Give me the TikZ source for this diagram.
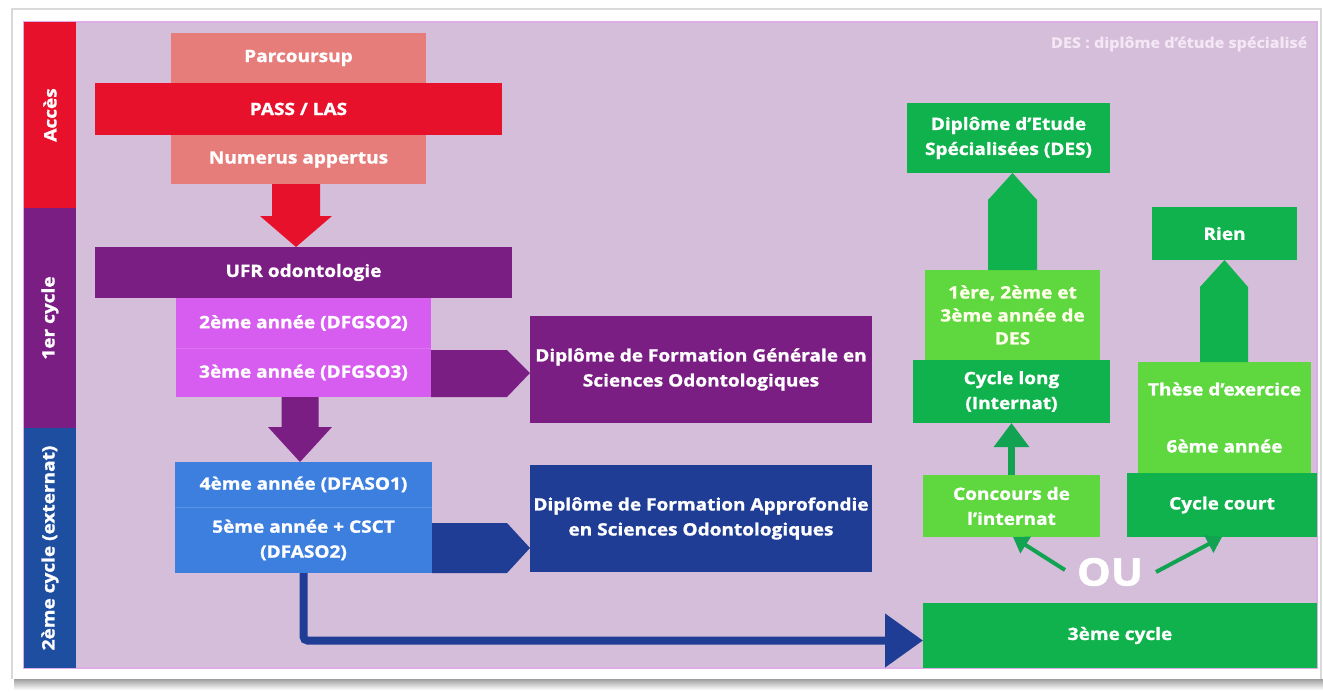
\documentclass[tikz,border=0pt]{standalone}
\usepackage{fontspec}
\setmainfont{Open Sans}[FakeStretch=1.12, BoldFeatures={FakeBold=1.3}]
\usetikzlibrary{arrows.meta,calc}
\definecolor{lav}{RGB}{213,190,218}
\definecolor{lavedge}{RGB}{222,172,230}
\definecolor{redc}{RGB}{232,17,43}
\definecolor{salmon}{RGB}{231,125,123}
\definecolor{purplec}{RGB}{123,30,132}
\definecolor{magentac}{RGB}{215,93,240}
\definecolor{lightblue}{RGB}{61,127,223}
\definecolor{darkblue}{RGB}{31,61,148}
\definecolor{sideblue}{RGB}{30,78,159}
\definecolor{darkgreen}{RGB}{15,178,76}
\definecolor{lightgreen}{RGB}{94,216,62}
\definecolor{arrowgreen}{RGB}{18,163,82}
\definecolor{notec}{RGB}{244,230,244}
\begin{document}
\begin{tikzpicture}[x=1pt,y=-1pt,
  box/.style={inner sep=0pt, outer sep=0pt, text=white, align=center,
    font=\bfseries\fontsize{17}{25}\selectfont},
  side/.style={box, rotate=90, minimum height=52pt,
    font=\bfseries\fontsize{17}{20}\selectfont},
  thinarrow/.style={draw=arrowgreen, line width=4pt,
    -{Triangle[length=15pt,width=19pt]}}
]
\useasboundingbox (0,0) rectangle (1323,691);
% card and shadow
\fill[white] (0,0) rectangle (1323,691);
\shade[top color=gray!75, bottom color=white] (14,679) rectangle (1323,690);
\draw[gray!30, line width=1.5pt] (12,679) -- (12,9) -- (1321,9) -- (1321,679);
% lavender panel
\fill[lav, draw=lavedge, line width=1.2pt] (24,22) rectangle (1317,668);

% side bands
\node[side, fill=redc, minimum width=186pt] (acces) at (50,115) {Accès};
\node[side, fill=purplec, minimum width=220pt] (cyc1) at (50,318) {1er cycle};
\node[side, fill=sideblue, minimum width=240pt] (cyc2) at (50,548) {2ème cycle (externat)};

% access
\node[box, fill=salmon, minimum width=255pt, minimum height=50pt] (parc) at (298.5,58) {Parcoursup};
\node[box, fill=salmon, minimum width=255pt, minimum height=49pt] (numerus) at (298.5,159.5) {Numerus appertus};
\node[box, fill=redc, minimum width=407pt, minimum height=52pt] (pass) at (298.5,109) {PASS / LAS};

% first cycle
\node[box, fill=purplec, minimum width=417pt, minimum height=51pt] (ufr) at (303.5,272.5) {UFR odontologie};
\node[box, fill=magentac, minimum width=255pt, minimum height=50pt] (dfgso2) at (303.5,323) {2ème année (DFGSO2)};
\node[box, fill=magentac, minimum width=255pt, minimum height=49pt] (dfgso3) at (303.5,372.5) {3ème année (DFGSO3)};
\draw[magentac!85!white, line width=0.8pt] (dfgso2.south west) -- (dfgso2.south east);
\node[box, fill=purplec, minimum width=342pt, minimum height=107pt] (dfgs) at (701,369.5)
  {Diplôme de Formation Générale en\\Sciences Odontologiques};

% second cycle
\node[box, fill=lightblue, minimum width=257pt, minimum height=45pt] (dfaso1) at (303.5,484.5) {4ème année (DFASO1)};
\node[box, fill=lightblue, minimum width=257pt, minimum height=66pt] (dfaso2) at (303.5,540) {5ème année + CSCT\\(DFASO2)};
\draw[lightblue!85!white, line width=0.8pt] (dfaso1.south west) -- (dfaso1.south east);
\node[box, fill=darkblue, minimum width=342pt, minimum height=107pt] (dfa) at (701,518.5)
  {Diplôme de Formation Approfondie\\en Sciences Odontologiques};

% third cycle
\node[box, fill=darkgreen, minimum width=394pt, minimum height=65pt] (third) at (1120,635.5) {3ème cycle};
\node[box, fill=lightgreen, minimum width=177pt, minimum height=62pt] (concours) at (1011.5,506) {Concours de\\l’internat};
\node[box, fill=darkgreen, minimum width=197pt, minimum height=63pt] (long) at (1011.5,391.5) {Cycle long\\(Internat)};
\node[box, fill=lightgreen, minimum width=175pt, minimum height=90pt, text=white!92!yellow] (desyears) at (1012.5,315)
  {1ère, 2ème et\\[-2pt]3ème année de\\[-2pt]DES};
\node[box, fill=darkgreen, minimum width=203pt, minimum height=70pt] (des) at (1008.5,138)
  {Diplôme d’Etude\\Spécialisées (DES)};
\node[box, fill=lightgreen, minimum width=173pt, minimum height=111pt] (these) at (1224.5,417.5)
  {Thèse d’exercice\\[32pt]6ème année};
\node[box, fill=darkgreen, minimum width=190pt, minimum height=64pt] (court) at (1222,505) {Cycle court};
\node[box, fill=darkgreen, minimum width=145pt, minimum height=53pt] (rien) at (1224.5,233.5) {Rien};
\node[box, minimum width=92pt, text=white, font=\bfseries\fontsize{38}{40}\selectfont] (ou) at (1110,572) {OU};
\node[box, text=notec, font=\bfseries\fontsize{14.5}{16}\selectfont] (note) at (1179,44) {DES : diplôme d’étude spécialisé};

% block arrows
\fill[redc] ($(numerus.south)+(-26.5,0)$) -- ++(48,0) -- ++(0,32) -- ++(12,0)
  -- ($(ufr.north)+(-7.5,0)$) -- ($(numerus.south)+(-38.5,32)$) -- ++(12,0) -- cycle;
\fill[purplec] ($(dfgso3.south)+(-22,0)$) -- ++(37,0) -- ++(0,30) -- ++(13.5,0)
  -- ($(dfaso1.north)+(-3.5,0)$) -- ($(dfgso3.south)+(-35.5,30)$) -- ++(13.5,0) -- cycle;
\fill[purplec] ($(dfgso3.south east)+(0,-47)$) -- ++(76,0) -- ($(dfgs.west)+(0,3.5)$)
  -- ($(dfgso3.south east)+(76,0)$) -- (dfgso3.south east) -- cycle;
\fill[darkblue] ($(dfaso2.south east)+(0,-50)$) -- ++(75,0) -- ($(dfa.west)+(0,29.5)$)
  -- ($(dfaso2.south east)+(75,0)$) -- (dfaso2.south east) -- cycle;
\fill[darkgreen] ($(desyears.north)+(-24.5,0)$) -- ++(49,0) -- ++(0,-70)
  -- (des.south -| desyears.north) -- ($(desyears.north)+(-24.5,-70)$) -- cycle;
\fill[darkgreen] ($(these.north)+(-24.5,0)$) -- ++(48,0) -- ++(0,-75)
  -- (rien.south) -- ($(these.north)+(-24.5,-75)$) -- cycle;

% connectors
\draw[darkblue, line width=8pt, rounded corners=4pt, -{Triangle[length=38pt,width=52pt]}]
  (dfaso2.south) |- ($(third.west)+(0,5)$);
\draw[arrowgreen, line width=7pt, -{Triangle[length=24pt,width=34pt]}]
  (concours.north) -- (long.south);
\draw[thinarrow] ($(ou.west)+(1,-2)$) -- ($(concours.south)+(1.5,0)$);
\draw[thinarrow] (ou.east) -- (court.south);
\end{tikzpicture}
\end{document}
